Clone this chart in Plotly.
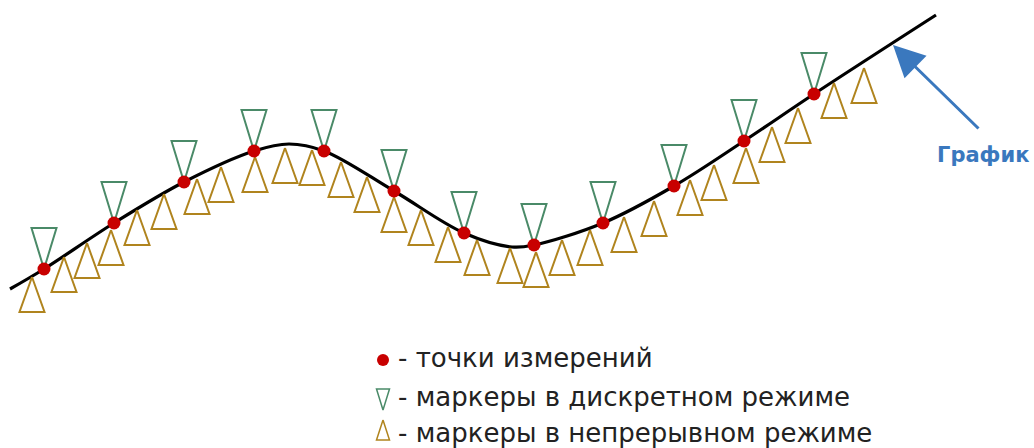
import plotly.graph_objects as go

W, H = 1034, 448

# Smooth curve knots (pixel-like units, y grows downward)
curve_x = [10, 44, 114, 184, 254, 289, 324, 394, 464, 512, 534, 603, 674, 744, 814, 936]
curve_y = [289, 269, 223, 182, 151, 144, 151, 191, 233, 247, 245, 223, 186, 141, 94, 15]

# Measurement points (red dots) = discrete markers positions
meas_x = [44, 114, 184, 254, 324, 394, 464, 534, 603, 674, 744, 814]
meas_y = [269, 223, 182, 151, 151, 191, 233, 245, 223, 186, 141, 94]

# Continuous-mode markers (apex positions)
cont_x = [32, 64, 87, 111, 137, 164, 197, 221, 255, 285, 312, 341, 367, 394, 421,
          448, 477, 510, 536, 562, 590, 624, 654, 690, 714, 746, 772, 798, 834, 864]
cont_y = [277, 257, 243, 230, 210, 194, 179, 167, 157, 148, 150, 162, 177, 197, 210,
          227, 240, 248, 252, 240, 230, 217, 201, 180, 165, 148, 127, 108, 83, 68]

legend_labels = ["- точки измерений", "- маркеры в дискретном режиме", "- маркеры в непрерывном режиме"]
legend_rows = [358, 397, 433]

graph_label = "График"

RED = "#c80000"
GREEN = "#4a8a68"
GOLD = "#b0841e"
BLUE = "#3a78be"
TEXT = "#222222"

TRI_W, TRI_H = 25, 35
GTRI_H = 41


def tri_up(xs, ys, w, h):
    px, py = [], []
    for x, y in zip(xs, ys):
        px += [x, x + w / 2, x - w / 2, x, None]
        py += [y, y + h, y + h, y, None]
    return px, py


def tri_down(xs, ys, w, h):
    px, py = [], []
    for x, y in zip(xs, ys):
        px += [x, x - w / 2, x + w / 2, x, None]
        py += [y, y - h, y - h, y, None]
    return px, py


fig = go.Figure()

# curve
fig.add_trace(go.Scatter(x=curve_x, y=curve_y, mode="lines",
                         line=dict(color="#000000", width=3.2, shape="spline", smoothing=1.0),
                         hoverinfo="skip"))

# continuous markers
gx, gy = tri_up(cont_x, cont_y, TRI_W, TRI_H)
fig.add_trace(go.Scatter(x=gx, y=gy, mode="lines", line=dict(color=GOLD, width=2),
                         hoverinfo="skip"))

# discrete markers
dx, dy = tri_down(meas_x, meas_y, TRI_W, GTRI_H)
fig.add_trace(go.Scatter(x=dx, y=dy, mode="lines", line=dict(color=GREEN, width=2),
                         hoverinfo="skip"))

# measurement points
fig.add_trace(go.Scatter(x=meas_x, y=meas_y, mode="markers",
                         marker=dict(color=RED, size=13, line=dict(width=0)),
                         hoverinfo="skip"))

# legend symbols
LX = 383
fig.add_trace(go.Scatter(x=[LX], y=[360], mode="markers",
                         marker=dict(color=RED, size=12, line=dict(width=0)), hoverinfo="skip"))
lgx, lgy = tri_down([LX], [410], 13, 21)
fig.add_trace(go.Scatter(x=lgx, y=lgy, mode="lines", line=dict(color=GREEN, width=1.5),
                         hoverinfo="skip"))
lux, luy = tri_up([LX], [420], 13, 20)
fig.add_trace(go.Scatter(x=lux, y=luy, mode="lines", line=dict(color=GOLD, width=1.5),
                         hoverinfo="skip"))

annotations = []
for lab, ry in zip(legend_labels, legend_rows):
    annotations.append(dict(x=396, y=ry, xref="x", yref="y", text=lab, showarrow=False,
                            xanchor="left", yanchor="middle",
                            font=dict(family="DejaVu Sans", size=26, color=TEXT)))

# arrow pointing to the graph
annotations.append(dict(x=893, y=45, ax=980, ay=130, xref="x", yref="y", axref="x", ayref="y",
                        text="", showarrow=True, arrowhead=2, arrowsize=2.1, arrowwidth=3,
                        arrowcolor=BLUE, standoff=0))
annotations.append(dict(x=983, y=155, xref="x", yref="y", text="<b>" + graph_label + "</b>",
                        showarrow=False, xanchor="center", yanchor="middle",
                        font=dict(family="DejaVu Sans", size=21, color=BLUE)))

fig.update_layout(
    width=W, height=H, autosize=False,
    margin=dict(l=0, r=0, t=0, b=0),
    paper_bgcolor="white", plot_bgcolor="white",
    showlegend=False,
    xaxis=dict(range=[0, W], visible=False, fixedrange=True),
    yaxis=dict(range=[H, 0], visible=False, fixedrange=True),
    annotations=annotations,
)

fig.write_html("out.html", config={"displayModeBar": False},
               post_script="document.body.style.margin='0';document.body.style.overflow='hidden';")
